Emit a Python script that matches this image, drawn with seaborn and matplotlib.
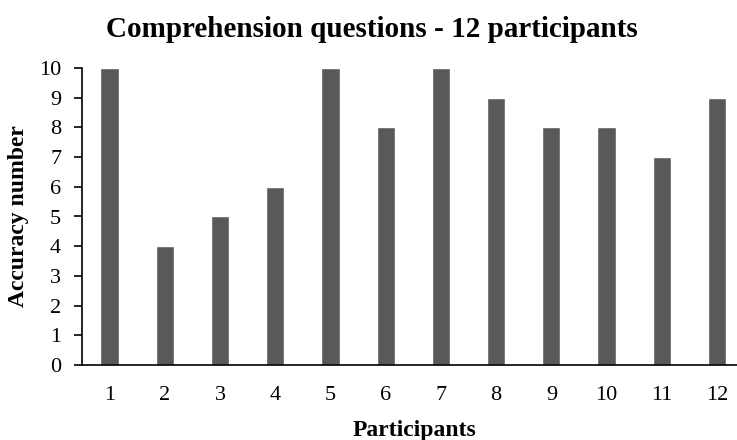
import matplotlib
matplotlib.use("Agg")
import matplotlib.pyplot as plt
import seaborn as sns
import pandas as pd

participants = [str(i) for i in range(1, 13)]
accuracy = [10, 4, 5, 6, 10, 8, 10, 9, 8, 8, 7, 9]
y_ticks = list(range(0, 11))

sns.set_theme(style="white")
plt.rcParams["font.family"] = ["Liberation Serif", "DejaVu Serif"]

df = pd.DataFrame({"Participants": participants, "Accuracy": accuracy})

fig = plt.figure(figsize=(7.37, 4.4), dpi=100)
ax = fig.add_axes([82 / 737, 75 / 440, 662.6 / 737, 297 / 440])

sns.barplot(data=df, x="Participants", y="Accuracy", color="#595959",
            width=0.33, saturation=1, ax=ax)

ax.set_ylim(0, 10)
ax.set_xlim(-0.5, 11.5)
ax.set_yticks(y_ticks)
ax.tick_params(axis="y", which="major", length=6, width=1.2, color="black",
               left=True, labelsize=16, pad=9)
ax.tick_params(axis="x", which="major", length=0, labelsize=16, pad=15)
for lab in ax.get_xticklabels() + ax.get_yticklabels():
    lab.set_color("black")

for side in ["top", "right"]:
    ax.spines[side].set_visible(False)
for side in ["left", "bottom"]:
    ax.spines[side].set_color("black")
    ax.spines[side].set_linewidth(1.2)

ax.set_xlabel("Participants", fontsize=17, fontweight="bold", color="black")
ax.xaxis.label.set_va("baseline")
ax.xaxis.set_label_coords((414 - 82) / 662.6, (365 - 436) / 297)
ax.set_ylabel("Accuracy number", fontsize=17, fontweight="bold", color="black")
ax.yaxis.label.set_va("center")
ax.yaxis.set_label_coords((19 - 82) / 662.6, 0.5)

fig.text(372 / 737, 1 - 37 / 440, "Comprehension questions - 12 participants",
         ha="center", va="baseline", fontsize=21, fontweight="bold", color="black")

fig.savefig("out.png", dpi=100)
